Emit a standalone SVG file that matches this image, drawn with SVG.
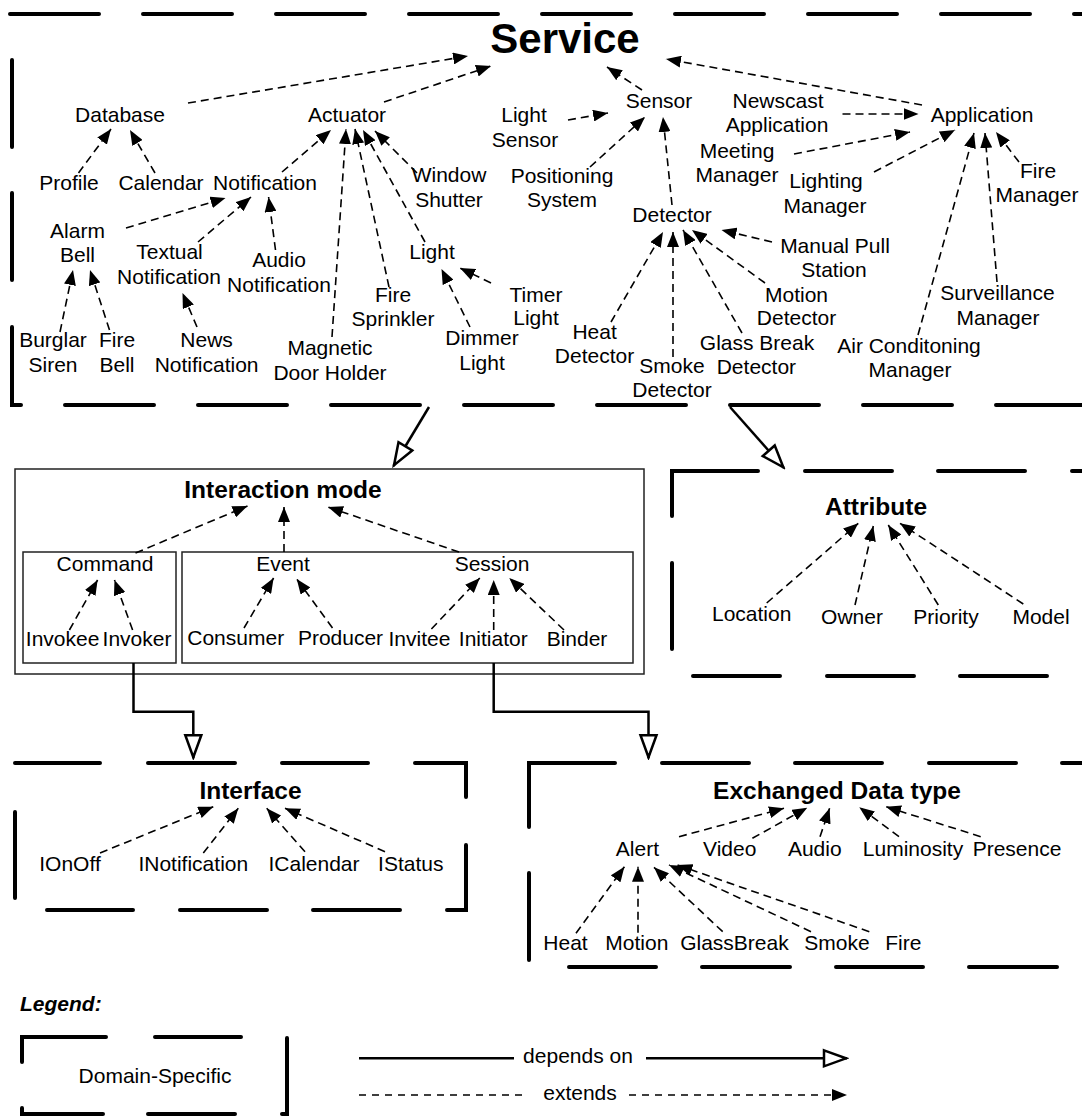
<svg xmlns="http://www.w3.org/2000/svg" width="1082" height="1119" viewBox="0 0 1082 1119">
<style>
.t{font-family:"Liberation Sans",Arial,Helvetica,sans-serif;font-size:21px;text-anchor:middle;fill:#000}
.h{font-weight:bold;font-size:24.5px}
.big{font-weight:bold;font-size:42px}
.ext{stroke:#000;stroke-width:1.6;stroke-dasharray:8 5;fill:none;marker-end:url(#ah)}
.dep{stroke:#000;stroke-width:2.5;fill:none;marker-end:url(#hol)}
.dom{stroke:#000;stroke-width:4;stroke-linecap:round;stroke-linejoin:miter;fill:none}
.box{fill:none;stroke:#222;stroke-width:1.5}
</style>
<defs>
<marker id="ah" viewBox="0 0 15 12" refX="15" refY="6" markerWidth="15" markerHeight="12" markerUnits="userSpaceOnUse" orient="auto"><path d="M0,0 L15,6 L0,12 z" fill="#000"/></marker>
<marker id="hol" viewBox="-2 -2 28 22" refX="24" refY="9" markerWidth="28" markerHeight="22" markerUnits="userSpaceOnUse" orient="auto"><path d="M1,1 L23,9 L1,17 z" fill="#fff" stroke="#000" stroke-width="2.5"/></marker>
</defs>
<rect width="1082" height="1119" fill="#fff"/>

<!-- domain-specific boundaries -->
<g id="boundaries">
<path class="dom" d="M10,14H99 M143,14H232 M276,14H365 M409,14H498 M542,14H631 M675,14H764 M808,14H897 M941,14H1030 M1074,14H1090 M12,60V147 M12,193V280 M12,327V405H21 M65,405H154 M198,405H287 M331,405H420 M464,405H553 M597,405H686 M730,405H819 M863,405H952 M996,405H1085"/>
<path class="dom" d="M672,516V471H758 M805,471H892 M938,471H1025 M1072,471H1090 M672,563V649 M693,676H780 M827,676H914 M960,676H1047"/>
<path class="dom" d="M15,763H100 M148,763H235 M282,763H368 M415,763H466V797 M466,845V910H447 M400,910H313 M267,910H180 M133,910H47 M15,812V898"/>
<path class="dom" d="M529,827V763H615 M662,763H749 M795,763H882 M929,763H1016 M1062,763H1090 M529,873V960 M569,967H656 M702,967H790 M836,967H923 M969,967H1057"/>
<path class="dom" d="M22,1062V1037H106 M155,1037H241 M287,1038V1114H282 M22,1108V1114H103 M148,1114H235"/>
</g>

<!-- interaction mode boxes -->
<g id="interaction-boxes">
<rect class="box" x="15" y="469" width="629" height="205"/>
<rect class="box" x="23" y="552" width="153" height="111"/>
<rect class="box" x="182" y="552" width="451" height="111"/>
</g>

<!-- connectors -->
<g id="connectors">
<path class="ext" d="M188,103L468,56"/>
<path class="ext" d="M384,102L491,66"/>
<path class="ext" d="M642,90L607,67"/>
<path class="ext" d="M922,105L666,59"/>
<path class="ext" d="M78.5,173L111,129"/>
<path class="ext" d="M155,173L130,130"/>
<path class="ext" d="M282,172L331,130"/>
<path class="ext" d="M332,337L346,129"/>
<path class="ext" d="M389,287L355,129"/>
<path class="ext" d="M425,242L363,130"/>
<path class="ext" d="M417,173L375,131"/>
<path class="ext" d="M126,228L225.5,198"/>
<path class="ext" d="M198,242L251,197"/>
<path class="ext" d="M275.5,250L268.6,197"/>
<path class="ext" d="M60,332L73,270"/>
<path class="ext" d="M109.5,330L90,270"/>
<path class="ext" d="M197,327L182.5,293"/>
<path class="ext" d="M470,327L441.5,269"/>
<path class="ext" d="M491,283L460,268"/>
<path class="ext" d="M568,120L608,113"/>
<path class="ext" d="M590,167L645,117"/>
<path class="ext" d="M672,205L663,117"/>
<path class="ext" d="M611,322L663,232"/>
<path class="ext" d="M673,357L673,232"/>
<path class="ext" d="M742,333L683,230"/>
<path class="ext" d="M765,283L692,230"/>
<path class="ext" d="M772,242L721.5,230"/>
<path class="ext" d="M842.5,114L918.5,114"/>
<path class="ext" d="M794,154L910,132"/>
<path class="ext" d="M874,172L955,130"/>
<path class="ext" d="M918,335L974,133"/>
<path class="ext" d="M997,282L985,133"/>
<path class="ext" d="M1019,162L996,132"/>

<path class="ext" d="M135.5,553L247.5,506"/>
<path class="ext" d="M284,552L284,507"/>
<path class="ext" d="M459,552L328,507"/>
<path class="ext" d="M69.4,630L97.6,580"/>
<path class="ext" d="M132.6,630L114.5,580"/>
<path class="ext" d="M244,628L273.6,578"/>
<path class="ext" d="M332.5,628L296.7,579"/>
<path class="ext" d="M431.4,629L479.8,578"/>
<path class="ext" d="M493.7,630L493.7,580"/>
<path class="ext" d="M564,630L509.3,578"/>

<path class="ext" d="M766.7,603L858.3,523.3"/>
<path class="ext" d="M855,605L873.3,526"/>
<path class="ext" d="M938.3,605L888.3,525"/>
<path class="ext" d="M1023.3,604L900,523.3"/>

<path class="ext" d="M100,853L213.3,806.7"/>
<path class="ext" d="M203.3,853L238.3,808.3"/>
<path class="ext" d="M305,851.7L266.7,808.3"/>
<path class="ext" d="M385,851.7L285,808.3"/>

<path class="ext" d="M679,836.7L784,808.3"/>
<path class="ext" d="M752.4,838.3L807.3,807.7"/>
<path class="ext" d="M820,836.7L829.6,808.3"/>
<path class="ext" d="M899,836.7L859.3,807.3"/>
<path class="ext" d="M980.7,836.7L886,806.7"/>
<path class="ext" d="M576,933.3L624.4,866.7"/>
<path class="ext" d="M638,932.7L638,866.7"/>
<path class="ext" d="M722.7,931.7L654,867.3"/>
<path class="ext" d="M811,931.7L669,865"/>
<path class="ext" d="M869.3,931.7L677.4,865"/>

<path class="dep" d="M429,407L393.5,466"/>
<path class="dep" d="M730,407L784,468"/>
<path class="dep" d="M133.5,663V711.7H193.3V758.3"/>
<path class="dep" d="M493.7,663V711.7H648.5V758.3"/>
</g>

<!-- Service domain -->
<g id="service"><text class="t big" x="565" y="53">Service</text></g>
<g id="database"><text class="t" x="120" y="122">Database</text></g>
<g id="actuator"><text class="t" x="347" y="122">Actuator</text></g>
<g id="sensor"><text class="t" x="659" y="108">Sensor</text></g>
<g id="application"><text class="t" x="982" y="122">Application</text></g>
<g id="light-sensor"><text class="t" x="524" y="122">Light</text><text class="t" x="525" y="147">Sensor</text></g>
<g id="newscast-application"><text class="t" x="778" y="108">Newscast</text><text class="t" x="777" y="132">Application</text></g>
<g id="meeting-manager"><text class="t" x="737" y="158">Meeting</text><text class="t" x="737" y="182">Manager</text></g>
<g id="lighting-manager"><text class="t" x="826" y="188">Lighting</text><text class="t" x="825" y="213">Manager</text></g>
<g id="fire-manager"><text class="t" x="1038" y="178">Fire</text><text class="t" x="1037" y="202">Manager</text></g>
<g id="profile"><text class="t" x="69" y="190">Profile</text></g>
<g id="calendar"><text class="t" x="161" y="190">Calendar</text></g>
<g id="notification"><text class="t" x="265" y="190">Notification</text></g>
<g id="window-shutter"><text class="t" x="449" y="182">Window</text><text class="t" x="449" y="207">Shutter</text></g>
<g id="positioning-system"><text class="t" x="562" y="183">Positioning</text><text class="t" x="562" y="207">System</text></g>
<g id="detector"><text class="t" x="672" y="222">Detector</text></g>
<g id="alarm-bell"><text class="t" x="77.5" y="238">Alarm</text><text class="t" x="77.5" y="262">Bell</text></g>
<g id="textual-notification"><text class="t" x="169.5" y="259">Textual</text><text class="t" x="169" y="284">Notification</text></g>
<g id="audio-notification"><text class="t" x="279" y="267">Audio</text><text class="t" x="279" y="292">Notification</text></g>
<g id="light"><text class="t" x="432" y="259">Light</text></g>
<g id="manual-pull-station"><text class="t" x="835" y="253">Manual Pull</text><text class="t" x="834" y="277">Station</text></g>
<g id="fire-sprinkler"><text class="t" x="393" y="302">Fire</text><text class="t" x="393" y="326">Sprinkler</text></g>
<g id="timer-light"><text class="t" x="536" y="302">Timer</text><text class="t" x="536" y="325">Light</text></g>
<g id="motion-detector"><text class="t" x="796.5" y="302">Motion</text><text class="t" x="796.5" y="325">Detector</text></g>
<g id="surveillance-manager"><text class="t" x="997.5" y="300">Surveillance</text><text class="t" x="998" y="325">Manager</text></g>
<g id="burglar-siren"><text class="t" x="53" y="347">Burglar</text><text class="t" x="53" y="372">Siren</text></g>
<g id="fire-bell"><text class="t" x="117" y="347">Fire</text><text class="t" x="117" y="372">Bell</text></g>
<g id="news-notification"><text class="t" x="206.6" y="347">News</text><text class="t" x="206.6" y="372">Notification</text></g>
<g id="magnetic-door-holder"><text class="t" x="330" y="355">Magnetic</text><text class="t" x="330" y="380">Door Holder</text></g>
<g id="dimmer-light"><text class="t" x="482" y="345">Dimmer</text><text class="t" x="482" y="370">Light</text></g>
<g id="heat-detector"><text class="t" x="594.6" y="339">Heat</text><text class="t" x="594.5" y="363">Detector</text></g>
<g id="smoke-detector"><text class="t" x="672" y="373">Smoke</text><text class="t" x="672" y="397">Detector</text></g>
<g id="glass-break-detector"><text class="t" x="757" y="350">Glass Break</text><text class="t" x="756.4" y="374">Detector</text></g>
<g id="air-conditioning-manager"><text class="t" x="909" y="353">Air Conditoning</text><text class="t" x="910" y="377">Manager</text></g>

<!-- Interaction mode -->
<g id="interaction-mode"><text class="t h" x="283" y="498">Interaction mode</text></g>
<g id="command"><text class="t" x="105" y="571">Command</text></g>
<g id="event"><text class="t" x="283" y="571">Event</text></g>
<g id="session"><text class="t" x="492" y="571">Session</text></g>
<g id="invokee"><text class="t" x="62.6" y="646">Invokee</text></g>
<g id="invoker"><text class="t" x="137" y="646">Invoker</text></g>
<g id="consumer"><text class="t" x="235.7" y="645">Consumer</text></g>
<g id="producer"><text class="t" x="340.5" y="645">Producer</text></g>
<g id="invitee"><text class="t" x="419.4" y="646">Invitee</text></g>
<g id="initiator"><text class="t" x="493.3" y="646">Initiator</text></g>
<g id="binder"><text class="t" x="577" y="646">Binder</text></g>

<!-- Attribute -->
<g id="attribute"><text class="t h" x="876" y="515">Attribute</text></g>
<g id="location"><text class="t" x="751.7" y="621">Location</text></g>
<g id="owner"><text class="t" x="852" y="624">Owner</text></g>
<g id="priority"><text class="t" x="946" y="624">Priority</text></g>
<g id="model"><text class="t" x="1041" y="624">Model</text></g>

<!-- Interface -->
<g id="interface"><text class="t h" x="250.5" y="799">Interface</text></g>
<g id="ionoff"><text class="t" x="70" y="871">IOnOff</text></g>
<g id="inotification"><text class="t" x="193.3" y="871">INotification</text></g>
<g id="icalendar"><text class="t" x="314" y="871">ICalendar</text></g>
<g id="istatus"><text class="t" x="410.8" y="871">IStatus</text></g>

<!-- Exchanged Data type -->
<g id="exchanged-data-type"><text class="t h" x="837" y="799">Exchanged Data type</text></g>
<g id="alert"><text class="t" x="637.4" y="856">Alert</text></g>
<g id="video"><text class="t" x="729.7" y="856">Video</text></g>
<g id="audio"><text class="t" x="814.8" y="856">Audio</text></g>
<g id="luminosity"><text class="t" x="913" y="856">Luminosity</text></g>
<g id="presence"><text class="t" x="1017" y="856">Presence</text></g>
<g id="heat"><text class="t" x="565.5" y="950">Heat</text></g>
<g id="motion"><text class="t" x="636.8" y="950">Motion</text></g>
<g id="glassbreak"><text class="t" x="734.4" y="950">GlassBreak</text></g>
<g id="smoke"><text class="t" x="836.9" y="950">Smoke</text></g>
<g id="fire"><text class="t" x="903.3" y="950">Fire</text></g>

<!-- Legend -->
<g id="legend">
<text class="t" x="20" y="1011" style="text-anchor:start;font-weight:bold;font-style:italic">Legend:</text>
<text class="t" x="155" y="1083">Domain-Specific</text>
<path d="M359,1058.3H514" stroke="#000" stroke-width="2.5" fill="none"/>
<text class="t" x="578" y="1063">depends on</text>
<path class="dep" d="M646,1058.3H847"/>
<path d="M359,1095H528" class="ext" style="marker-end:none;stroke-dasharray:7 6"/>
<text class="t" x="580" y="1100">extends</text>
<path class="ext" d="M629,1095H847" style="stroke-dasharray:7 6"/>
</g>
</svg>
